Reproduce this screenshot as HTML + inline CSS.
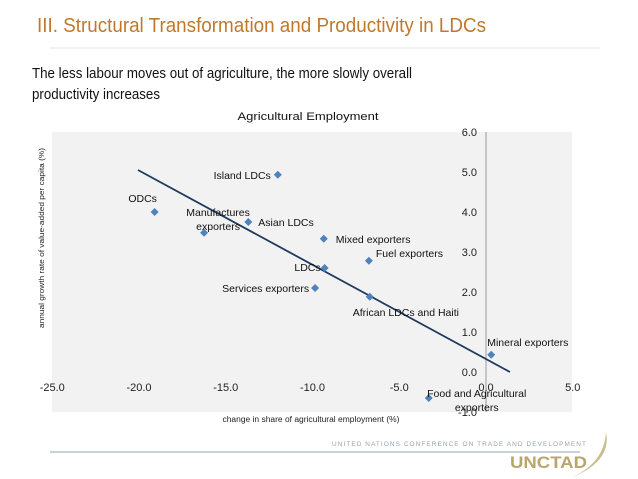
<!DOCTYPE html>
<html><head><meta charset="utf-8">
<style>
html,body{margin:0;padding:0;background:#fff;}
svg{display:block;font-family:"Liberation Sans",sans-serif;}
</style></head>
<body>
<svg id="chart" width="638" height="479" viewBox="0 0 638 479">
  <text x="37" y="32" font-size="20" fill="#c0792a" textLength="449" lengthAdjust="spacingAndGlyphs">III.  Structural Transformation and Productivity in LDCs</text>
  <line x1="50" y1="48" x2="600" y2="48" stroke="#e6e6e6" stroke-width="1"/>
  <text x="32" y="78" font-size="15" fill="#111" textLength="380" lengthAdjust="spacingAndGlyphs">The less labour moves out of agriculture, the more slowly overall</text>
  <text x="32" y="99" font-size="15" fill="#111" textLength="128" lengthAdjust="spacingAndGlyphs">productivity increases</text>
  <text x="308" y="120" font-size="11" fill="#111" text-anchor="middle" textLength="141" lengthAdjust="spacingAndGlyphs">Agricultural Employment</text>
  <rect x="52" y="132" width="520" height="280" fill="#f2f2f2"/>
  <g id="axes"></g>
  <g id="marks"></g>
  <text x="44" y="238" font-size="7.5" fill="#222" text-anchor="middle" transform="rotate(-90 44 238)" textLength="180" lengthAdjust="spacingAndGlyphs">annual growth rate of value-added per capita (%)</text>
  <text x="311" y="422" font-size="8" fill="#222" text-anchor="middle" textLength="177" lengthAdjust="spacingAndGlyphs">change in share of  agricultural employment (%)</text>
  <line x1="50" y1="452" x2="580" y2="452" stroke="#c8d2d8" stroke-width="2"/>
  <text x="332" y="446" font-size="6" fill="#9aa3ad" letter-spacing="1" textLength="255" lengthAdjust="spacingAndGlyphs">UNITED NATIONS CONFERENCE ON TRADE AND DEVELOPMENT</text>
  <text x="510" y="468" font-size="17" font-weight="bold" fill="#b8a66c" textLength="77" lengthAdjust="spacingAndGlyphs">UNCTAD</text>
  <path d="M606 432 Q612 462 570 478 Q604 464 606 432 Z" fill="#c9bd92"/>
</svg>
<script>
const categories = ["Island LDCs","ODCs","Manufactures exporters","Asian LDCs","Mixed exporters","Fuel exporters","LDCs","Services exporters","African LDCs and Haiti","Mineral exporters","Food and Agricultural exporters"];
const xValues = [-12.0,-19.1,-16.25,-13.7,-9.35,-6.75,-9.3,-9.85,-6.7,0.3,-3.3];
const yValues = [4.93,4.0,3.48,3.75,3.33,2.78,2.6,2.1,1.88,0.43,-0.65];
const trendX = [-20.06,1.38];
const trendY = [5.05,0.0];
const xTicks = ["-25.0","-20.0","-15.0","-10.0","-5.0","0.0","5.0"];
const xTickValues = [-25,-20,-15,-10,-5,0,5];
const yTicks = ["6.0","5.0","4.0","3.0","2.0","1.0","0.0","-1.0"];
const yTickValues = [6,5,4,3,2,1,0,-1];

const NS = "http://www.w3.org/2000/svg";
function xs(v){ return 486 + 17.35*v; }
function ys(v){ return 372 - 40*v; }
const labelPos = [
  [["Island LDCs"],"end",-7,4],
  [["ODCs"],"middle",-12,-10],
  [["Manufactures","exporters"],"middle",14,-17],
  [["Asian LDCs"],"start",10,4],
  [["Mixed exporters"],"start",12,4],
  [["Fuel exporters"],"start",7,-4],
  [["LDCs"],"end",-4,3],
  [["Services exporters"],"end",-6,4],
  [["African LDCs and Haiti"],"start",-17,19],
  [["Mineral exporters"],"start",-4,-9],
  [["Food and Agricultural","exporters"],"middle",48,-1]
];
const axes = document.getElementById('axes');
const marks = document.getElementById('marks');
function mk(tag, attrs, parent){ const e=document.createElementNS(NS,tag); for(const k in attrs) e.setAttribute(k,attrs[k]); parent.appendChild(e); return e; }

const vax = mk('line',{x1:xs(0),y1:ys(6),x2:xs(0),y2:ys(-1),stroke:'#999','stroke-width':1},axes);


yTickValues.forEach((v,i)=>{
  const t = mk('text',{x:xs(0)-9,y:ys(v)+4,'font-size':11,fill:'#222','text-anchor':'end'},axes);
  t.textContent = yTicks[i];
  
  
});
xTickValues.forEach((v,i)=>{
  const t = mk('text',{x:xs(v),y:ys(0)+19,'font-size':11,fill:'#222','text-anchor':'middle'},axes);
  t.textContent = xTicks[i];
  
  
});
const tl = mk('line',{x1:xs(trendX[0]),y1:ys(trendY[0]),x2:xs(trendX[1]),y2:ys(trendY[1]),stroke:'#1f3a5f','stroke-width':1.8},marks);


categories.forEach((c,i)=>{
  const cx = xs(xValues[i]), cy = ys(yValues[i]);
  const p = mk('path',{d:`M${cx} ${cy-4} L${cx+4} ${cy} L${cx} ${cy+4} L${cx-4} ${cy} Z`,fill:'#4f81bd'},marks);
  
  
  const lp = labelPos[i];
  lp[0].forEach((line,j)=>{
    const t = mk('text',{x:cx+lp[2],y:cy+lp[3]+j*14,'font-size':10.5,fill:'#111','text-anchor':lp[1]},marks);
    t.textContent = line;
    
    
  });
});
</script>
</body></html>
